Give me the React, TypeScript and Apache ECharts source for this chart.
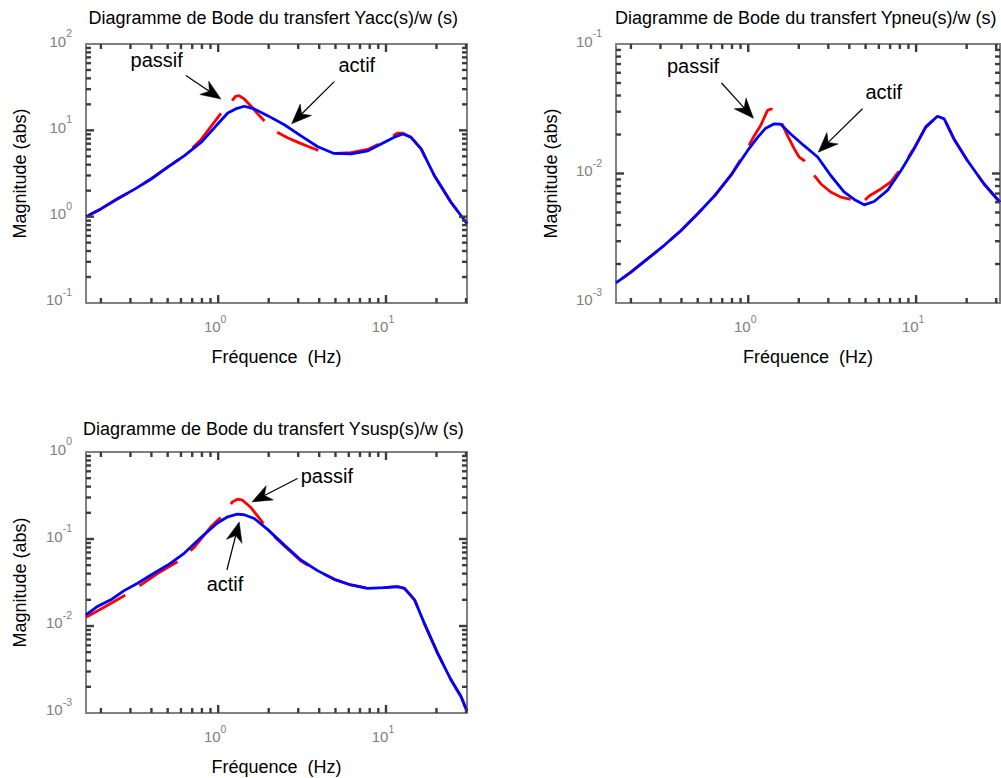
import React, { useEffect, useRef } from 'react';
import * as echarts from 'echarts';

// ---------------- data (frequency in Hz, magnitude in abs) ----------------
// Plot 1 : Yacc(s)/w(s)
const accFreqActif = [0.163, 0.2, 0.25, 0.32, 0.4, 0.5, 0.63, 0.8, 1.0, 1.14, 1.27, 1.43, 1.64, 1.97, 2.48, 3.1, 3.9, 4.9, 6.2, 7.8, 9.8, 11.2, 12.6, 14.1, 16.2, 19.4, 24.4, 30.4];
const accMagActif = [1.0, 1.23, 1.6, 2.1, 2.75, 3.75, 5.1, 7.4, 12.0, 15.9, 17.7, 19.0, 17.7, 14.8, 11.6, 8.7, 6.5, 5.4, 5.35, 5.8, 7.3, 8.3, 9.1, 8.3, 6.1, 3.0, 1.47, 0.83];
const accFreqPassif = [0.163, 0.2, 0.25, 0.32, 0.4, 0.5, 0.63, 0.79, 0.9, 1.04, 1.14, 1.21, 1.27, 1.33, 1.43, 1.57, 1.72, 1.92, 2.11, 2.29, 2.59, 2.97, 3.41, 4.1, 4.92, 6.18, 7.78, 9.77, 11.7, 12.6, 14.1, 16.2, 19.4, 24.4, 30.4];
const accMagPassif = [1.0, 1.23, 1.6, 2.1, 2.75, 3.75, 5.1, 7.8, 10.9, 15.8, 19.7, 22.1, 24.8, 25.2, 23.1, 19.0, 15.5, 12.4, 10.6, 9.3, 8.2, 7.3, 6.55, 5.7, 5.4, 5.5, 6.0, 7.4, 9.3, 9.25, 8.3, 6.1, 3.0, 1.47, 0.83];

// Plot 2 : Ypneu(s)/w(s)
const pneuFreqActif = [0.163, 0.2, 0.252, 0.316, 0.398, 0.5, 0.628, 0.789, 0.99, 1.14, 1.27, 1.43, 1.56, 1.79, 2.15, 2.59, 3.1, 3.72, 4.28, 4.9, 5.62, 6.75, 8.11, 9.73, 11.4, 13.4, 14.7, 16.8, 20.2, 25.4, 31.6];
const pneuMagActif = [1.43e-3, 1.73e-3, 2.2e-3, 2.79e-3, 3.63e-3, 4.89e-3, 6.7e-3, 9.7e-3, 1.5e-2, 1.91e-2, 2.24e-2, 2.42e-2, 2.4e-2, 2.02e-2, 1.64e-2, 1.34e-2, 9.65e-3, 7.2e-3, 6.3e-3, 5.73e-3, 6.08e-3, 7.4e-3, 1.05e-2, 1.55e-2, 2.28e-2, 2.77e-2, 2.64e-2, 1.85e-2, 1.26e-2, 8.3e-3, 6.0e-3];
const pneuFreqPassif = [0.163, 0.2, 0.252, 0.316, 0.398, 0.5, 0.628, 0.789, 0.99, 1.086, 1.19, 1.3, 1.364, 1.42, 1.565, 1.714, 1.88, 2.01, 2.15, 2.47, 2.71, 3.1, 3.56, 4.09, 4.69, 5.25, 6.17, 7.06, 8.11, 9.73, 11.4, 13.4, 14.7, 16.8, 20.2, 25.4, 31.6];
const pneuMagPassif = [1.43e-3, 1.73e-3, 2.2e-3, 2.79e-3, 3.63e-3, 4.89e-3, 6.7e-3, 9.7e-3, 1.57e-2, 1.96e-2, 2.37e-2, 3.06e-2, 3.15e-2, 3.1e-2, 2.52e-2, 1.96e-2, 1.55e-2, 1.34e-2, 1.26e-2, 9.66e-3, 8.3e-3, 7.2e-3, 6.57e-3, 6.3e-3, 5.8e-3, 6.7e-3, 7.6e-3, 8.6e-3, 1.09e-2, 1.57e-2, 2.28e-2, 2.77e-2, 2.64e-2, 1.85e-2, 1.26e-2, 8.3e-3, 6.0e-3];

// Plot 3 : Ysusp(s)/w(s)
const suspFreqActif = [0.163, 0.19, 0.229, 0.275, 0.331, 0.398, 0.501, 0.627, 0.789, 0.99, 1.14, 1.3, 1.43, 1.64, 1.97, 2.48, 3.11, 3.91, 4.92, 6.18, 7.78, 9.77, 11.7, 12.9, 14.8, 16.9, 20.3, 24.4, 28.0, 30.4];
const suspMagActif = [1.34e-2, 1.67e-2, 2.0e-2, 2.55e-2, 3.1e-2, 3.86e-2, 5.02e-2, 6.84e-2, 0.104, 0.153, 0.18, 0.193, 0.19, 0.172, 0.129, 8.5e-2, 5.73e-2, 4.33e-2, 3.44e-2, 2.96e-2, 2.71e-2, 2.76e-2, 2.83e-2, 2.71e-2, 2.0e-2, 1.08e-2, 4.88e-3, 2.41e-3, 1.55e-3, 1.05e-3];
const suspFreqPassif = [0.163, 0.209, 0.275, 0.338, 0.437, 0.571, 0.719, 0.904, 1.062, 1.216, 1.303, 1.396, 1.567, 1.795, 2.06, 2.48, 3.11, 3.91, 4.92, 6.18, 7.78, 9.77, 11.7, 12.9, 14.8, 16.9, 20.3, 24.4, 28.0, 30.4];
const suspMagPassif = [1.26e-2, 1.64e-2, 2.23e-2, 2.88e-2, 4.03e-2, 5.48e-2, 8.0e-2, 0.138, 0.185, 0.267, 0.287, 0.279, 0.23, 0.165, 0.116, 8.3e-2, 5.58e-2, 4.33e-2, 3.44e-2, 2.96e-2, 2.71e-2, 2.76e-2, 2.83e-2, 2.71e-2, 2.0e-2, 1.08e-2, 4.88e-3, 2.41e-3, 1.55e-3, 1.05e-3];

// texts
const titles = [
  'Diagramme de Bode du transfert Yacc(s)/w (s)',
  'Diagramme de Bode du transfert Ypneu(s)/w (s)',
  'Diagramme de Bode du transfert Ysusp(s)/w (s)',
];
const xName = 'Fréquence  (Hz)';
const yName = 'Magnitude (abs)';

// axis ticks (log decades)
const xMajorTicks = [1, 10];
const xDecades = [0.1, 1, 10];
const yMajorTicks = [
  [0.1, 1, 10, 100],
  [0.001, 0.01, 0.1],
  [0.001, 0.01, 0.1, 1],
];
const yDecades = [
  [0.1, 1, 10],
  [0.001, 0.01],
  [0.001, 0.01, 0.1],
];
const xRanges = [[0.163, 30.4], [0.163, 31.6], [0.163, 30.4]];
const yRanges = [[0.1, 100], [0.001, 0.1], [0.001, 1]];
const MANTISSAS = [2, 3, 4, 5, 6, 7, 8, 9];

// annotations (data coordinates)
const annotPlot = [0, 0, 1, 1, 2, 2];
const annotText = ['passif', 'actif', 'passif', 'actif', 'passif', 'actif'];
const annotTextAt = [[0.43, 64.7], [6.7, 57.8], [0.469, 0.0673], [6.42, 0.0427], [4.44, 0.536], [1.098, 0.0306]];
const annotFrom = [[0.642, 43.1], [4.92, 36.7], [0.693, 0.05], [4.79, 0.0316], [2.97, 0.495], [1.127, 0.044]];
const annotTo = [[1.038, 23.1], [2.74, 11.9], [1.075, 0.0267], [2.61, 0.0146], [1.59, 0.267], [1.334, 0.157]];

// ---------------- layout / style ----------------
const FONT = '"Liberation Sans", Arial, Helvetica, sans-serif';
const GRAY = '#808080';
const TICK_GRAY = '#3c3c3c';
const grids = [
  { left: 86, top: 44, width: 381, height: 259 },
  { left: 616, top: 44, width: 384, height: 259 },
  { left: 86, top: 452, width: 381, height: 261 },
];
const titlePos = [[273.3, 18.3], [805.8, 18.3], [273.3, 429.3]];
const yNameGap = [57, 56, 57];
const dashOffsets = [59, 55, 0];
const MAJOR_LEN = 8;
const MINOR_LEN = 5;
const TICK_W = 2.4;

const minorOf = (decades: number[], lo: number, hi: number) =>
  decades
    .flatMap((d) => MANTISSAS.map((m) => +(m * d).toPrecision(6)))
    .filter((v) => v > lo && v < hi);

const supFormatter = (v: number) => `{b|10}{s|${Math.round(Math.log10(v))}}`;
const richLabel = {
  b: { fontSize: 15, color: GRAY, fontFamily: FONT },
  s: { fontSize: 10.5, color: GRAY, fontFamily: FONT, padding: [0, 0, 16, 0] },
};

function buildXAxes(g: number) {
  const [lo, hi] = xRanges[g];
  const major = xMajorTicks.filter((v) => v >= lo && v <= hi);
  const base = {
    type: 'log',
    logBase: 10,
    gridIndex: g,
    min: lo,
    max: hi,
    splitLine: { show: false },
    minorTick: { show: false },
    minorSplitLine: { show: false },
    axisTick: { show: false },
  };
  const line = { show: true, onZero: false, lineStyle: { color: GRAY, width: 2 } };
  return [
    {
      ...base,
      position: 'bottom',
      axisLine: line,
      axisLabel: {
        show: true,
        customValues: major,
        formatter: supFormatter,
        rich: richLabel,
        fontSize: 15,
        color: GRAY,
        margin: 10,
        padding: [0, 6, 0, 0],
      },
      name: xName,
      nameLocation: 'middle',
      nameGap: 45,
      nameTextStyle: { fontSize: 18, fontFamily: FONT, color: '#000' },
    },
    {
      ...base,
      position: 'top',
      axisLine: line,
      axisLabel: { show: false },
    },
  ];
}

function buildYAxes(g: number) {
  const [lo, hi] = yRanges[g];
  const major = yMajorTicks[g];
  const base = {
    type: 'log',
    logBase: 10,
    gridIndex: g,
    min: lo * 0.99999,
    max: hi * 1.00001,
    splitLine: { show: false },
    minorTick: { show: false },
    minorSplitLine: { show: false },
    axisTick: { show: false },
  };
  const line = { show: true, onZero: false, lineStyle: { color: GRAY, width: 2 } };
  return [
    {
      ...base,
      position: 'left',
      axisLine: line,
      axisLabel: {
        show: true,
        customValues: major,
        formatter: supFormatter,
        rich: richLabel,
        fontSize: 15,
        color: GRAY,
        margin: 14,
        padding: [0, 0, 6, 0],
      },
      name: yName,
      nameLocation: 'middle',
      nameGap: yNameGap[g],
      nameTextStyle: { fontSize: 18, fontFamily: FONT, color: '#000' },
    },
    {
      ...base,
      position: 'right',
      axisLine: line,
      axisLabel: { show: false },
    },
  ];
}

const pairs = (f: number[], m: number[]) => f.map((v, i) => [v, m[i]]);

const curves = [
  { passif: pairs(accFreqPassif, accMagPassif), actif: pairs(accFreqActif, accMagActif) },
  { passif: pairs(pneuFreqPassif, pneuMagPassif), actif: pairs(pneuFreqActif, pneuMagActif) },
  { passif: pairs(suspFreqPassif, suspMagPassif), actif: pairs(suspFreqActif, suspMagActif) },
];

// tick items for a custom series: [x, y, length, side] (side 0 bottom, 1 top, 2 left, 3 right)
function tickItems(g: number) {
  const [xlo, xhi] = xRanges[g];
  const [ylo, yhi] = yRanges[g];
  const items: number[][] = [];
  const xs: number[][] = [];
  xMajorTicks.filter((v) => v > xlo && v < xhi).forEach((v) => xs.push([v, MAJOR_LEN]));
  minorOf(xDecades, xlo, xhi).forEach((v) => xs.push([v, MINOR_LEN]));
  xs.forEach(([v, len]) => {
    items.push([v, ylo, len, 0]);
    items.push([v, ylo, len, 1]);
  });
  const ys: number[][] = [];
  yMajorTicks[g].filter((v) => v > ylo * 1.001 && v < yhi * 0.999).forEach((v) => ys.push([v, MAJOR_LEN]));
  minorOf(yDecades[g], ylo, yhi).forEach((v) => ys.push([v, MINOR_LEN]));
  ys.forEach(([v, len]) => {
    items.push([xlo, v, len, 2]);
    items.push([xlo, v, len, 3]);
  });
  return items;
}

function tickRenderItem(params: any, api: any) {
  const cs = params.coordSys;
  const p = api.coord([api.value(0), api.value(1)]);
  const len = api.value(2);
  const side = api.value(3);
  let shape;
  if (side === 0) shape = { x: p[0] - TICK_W / 2, y: cs.y + cs.height - len, width: TICK_W, height: len };
  else if (side === 1) shape = { x: p[0] - TICK_W / 2, y: cs.y, width: TICK_W, height: len };
  else if (side === 2) shape = { x: cs.x, y: p[1] - TICK_W / 2, width: len, height: TICK_W };
  else shape = { x: cs.x + cs.width - len, y: p[1] - TICK_W / 2, width: len, height: TICK_W };
  return { type: 'rect', shape, style: { fill: TICK_GRAY } };
}

function buildSeries() {
  const out: any[] = [];
  curves.forEach((c, g) => {
    out.push({
      type: 'line',
      name: 'passif',
      xAxisIndex: g * 2,
      yAxisIndex: g * 2,
      data: c.passif,
      showSymbol: false,
      symbol: 'none',
      z: 2,
      lineStyle: { color: '#ff0000', width: 2.8, type: [45, 17], dashOffset: dashOffsets[g], cap: 'butt' },
    });
    out.push({
      type: 'line',
      name: 'actif',
      xAxisIndex: g * 2,
      yAxisIndex: g * 2,
      data: c.actif,
      showSymbol: false,
      symbol: 'none',
      z: 3,
      lineStyle: { color: '#0000ff', width: 2.8 },
    });
  });
  [0, 1, 2].forEach((g) => {
    out.push({
      type: 'custom',
      name: 'ticks',
      xAxisIndex: g * 2,
      yAxisIndex: g * 2,
      data: tickItems(g),
      encode: { x: 0, y: 1 },
      renderItem: tickRenderItem,
      silent: true,
      clip: false,
      z: 6,
    });
  });
  return out;
}

function arrowElements(p0: number[], p1: number[]) {
  const dx = p1[0] - p0[0];
  const dy = p1[1] - p0[1];
  const len = Math.sqrt(dx * dx + dy * dy) || 1;
  const ux = dx / len;
  const uy = dy / len;
  const nx = -uy;
  const ny = ux;
  const L = 20;
  const W = 8;
  const notch = 6;
  const bx = p1[0] - L * ux;
  const by = p1[1] - L * uy;
  const mx = p1[0] - (L - notch) * ux;
  const my = p1[1] - (L - notch) * uy;
  return [
    {
      type: 'line',
      shape: { x1: p0[0], y1: p0[1], x2: mx, y2: my },
      style: { stroke: '#000', lineWidth: 1.2 },
      z: 10,
    },
    {
      type: 'polygon',
      shape: {
        points: [
          [p1[0], p1[1]],
          [bx + W * nx, by + W * ny],
          [mx, my],
          [bx - W * nx, by - W * ny],
        ],
      },
      style: { fill: '#000', stroke: '#000', lineWidth: 0.5 },
      z: 10,
    },
  ];
}

export default function App() {
  const ref = useRef<HTMLDivElement>(null);
  useEffect(() => {
    if (!ref.current) return;
    const chart = echarts.init(ref.current, null, { renderer: 'svg' });
    const xAxis = [0, 1, 2].flatMap((g) => buildXAxes(g));
    const yAxis = [0, 1, 2].flatMap((g) => buildYAxes(g));
    chart.setOption({
      animation: false,
      backgroundColor: '#ffffff',
      textStyle: { fontFamily: FONT },
      grid: grids.map((gr) => ({ ...gr, containLabel: false })),
      xAxis,
      yAxis,
      series: buildSeries(),
    });

    const graphic: any[] = [];
    titles.forEach((t, i) => {
      graphic.push({
        type: 'text',
        x: titlePos[i][0],
        y: titlePos[i][1],
        style: {
          text: t,
          fill: '#000',
          fontSize: 18,
          fontFamily: FONT,
          align: 'center',
          verticalAlign: 'middle',
        },
      });
    });
    annotText.forEach((t, i) => {
      const si = annotPlot[i] * 2 + 1;
      const tp = chart.convertToPixel({ seriesIndex: si }, annotTextAt[i]) as number[];
      const p0 = chart.convertToPixel({ seriesIndex: si }, annotFrom[i]) as number[];
      const p1 = chart.convertToPixel({ seriesIndex: si }, annotTo[i]) as number[];
      graphic.push({
        type: 'text',
        x: tp[0],
        y: tp[1],
        style: {
          text: t,
          fill: '#000',
          fontSize: 20,
          fontFamily: FONT,
          align: 'center',
          verticalAlign: 'middle',
        },
        z: 10,
      });
      graphic.push(...arrowElements(p0, p1));
    });
    chart.setOption({ graphic: { elements: graphic } });

    return () => {
      chart.dispose();
    };
  }, []);
  return (
    <div
      ref={ref}
      style={{ position: 'absolute', left: 0, top: 0, width: 1001, height: 778, background: '#fff' }}
    />
  );
}
